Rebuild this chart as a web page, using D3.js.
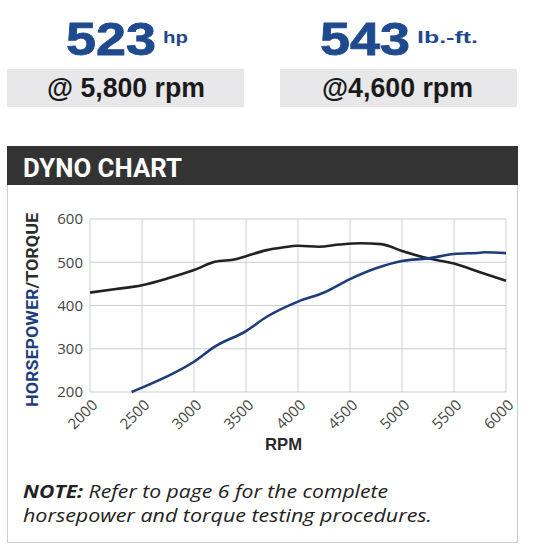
<!DOCTYPE html>
<html><head><meta charset="utf-8">
<script src="https://cdn.jsdelivr.net/npm/d3@7"></script>
<style>
html,body{margin:0;padding:0;background:#fff;}
svg{display:block;}
</style></head>
<body>
<svg id="c" width="533" height="547"></svg>
<script>
// ---- data ----
const xTicks = [2000,2500,3000,3500,4000,4500,5000,5500,6000];
const yTicks = [200,300,400,500,600];
const torqueRpm = [2000,2250,2500,2750,3000,3200,3400,3500,3700,3850,4000,4200,4400,4600,4800,5000,5250,5500,5750,6000];
const torque    = [430,438,447,463,482,501,507,514,528,534,538,536,541,544,542,526,509,497,477,457];
const hpRpm = [2400,2500,2800,3000,3200,3500,3700,4000,4250,4500,4750,5000,5250,5500,5750,5800,6000];
const hp    = [200,210,243,270,305,341,374,409,430,461,486,503,509,519,522,523,521];
const peakHp = "523", peakHpUnit = "hp", peakHpAt = "@ 5,800 rpm";
const peakTq = "543", peakTqUnit = "lb.-ft.", peakTqAt = "@4,600 rpm";

const svg = d3.select("#c");
const F = "'Liberation Sans', Arial, sans-serif";
const FO = "'Open Sans', sans-serif";
const FR = "Roboto, sans-serif";
const BLUE = "#1f4a8e", LINEBLUE = "#1c3c7c", DARK = "#222";

function fit(sel, w) { sel.attr("textLength", w).attr("lengthAdjust", "spacingAndGlyphs"); return sel; }

// ---- header stats ----
function stat(bigX, bigW, unitX, unitW, big, unit, at, atX, atW, boxX) {
  svg.append("rect").attr("x", boxX).attr("y", 69).attr("width", 237).attr("height", 38).attr("fill", "#e8e8ea");
  fit(svg.append("text").attr("x", bigX).attr("y", 55).attr("font-family", F).attr("font-weight", "bold")
    .attr("font-size", 46).attr("fill", BLUE).attr("stroke", BLUE).attr("stroke-width", 0.8).text(big), bigW);
  fit(svg.append("text").attr("x", unitX).attr("y", 43).attr("font-family", F).attr("font-weight", "bold")
    .attr("font-size", 17).attr("fill", BLUE).text(unit), unitW);
  fit(svg.append("text").attr("x", atX).attr("y", 97)
    .attr("font-family", F).attr("font-weight", "bold").attr("font-size", 27).attr("fill", "#1a1a1a").text(at), atW);
}
stat(66, 90, 163, 25, peakHp, peakHpUnit, peakHpAt, 47, 158, 7);
stat(320, 90, 417, 61, peakTq, peakTqUnit, peakTqAt, 322, 151, 280);

// ---- chart box ----
svg.append("rect").attr("x", 7.5).attr("y", 146.5).attr("width", 510).attr("height", 396).attr("fill", "#fff").attr("stroke", "#cfcfcf");
svg.append("rect").attr("x", 7).attr("y", 146).attr("width", 511).attr("height", 39).attr("fill", "#333");
fit(svg.append("text").attr("x", 23).attr("y", 177).attr("font-family", FR).attr("font-weight", "bold").attr("font-size", 26).attr("fill", "#fff").text("DYNO CHART"), 159);

// ---- plot ----
const x = d3.scaleLinear().domain([2000, 6000]).range([90, 506]);
const y = d3.scaleLinear().domain([200, 600]).range([392, 219]);
const GRID = "#c9ced6";

const g = svg.append("g");
g.selectAll(".vg").data(xTicks).join("line").attr("x1", d => x(d)).attr("x2", d => x(d)).attr("y1", y(200)).attr("y2", y(600)).attr("stroke", GRID).attr("stroke-width", 1);
g.selectAll(".hg").data(yTicks).join("line").attr("y1", d => y(d)).attr("y2", d => y(d)).attr("x1", x(2000)).attr("x2", x(6000)).attr("stroke", GRID).attr("stroke-width", 1);

// y axis labels
const ya = svg.append("g").attr("transform", `translate(${x(2000)},0)`).call(d3.axisLeft(y).tickValues(yTicks).tickSize(0).tickPadding(7));
ya.select(".domain").remove();
ya.selectAll("text").attr("font-family", FO).attr("font-size", 15).attr("fill", "#444");

// x axis labels
const xa = svg.append("g").attr("transform", `translate(0,${y(200)})`).call(d3.axisBottom(x).tickValues(xTicks).tickSize(0).tickFormat(d3.format("d")));
xa.select(".domain").remove();
xa.selectAll("text").attr("font-family", FO).attr("font-size", 15).attr("fill", "#444")
  .attr("text-anchor", "end").attr("y", 0).attr("dy", 0).attr("transform", "translate(8,14) rotate(-45)");

// lines
const line = d3.line().curve(d3.curveMonotoneX);
svg.append("path").attr("d", line(torqueRpm.map((r, i) => [x(r), y(torque[i])]))).attr("fill", "none").attr("stroke", DARK).attr("stroke-width", 2.6);
svg.append("path").attr("d", line(hpRpm.map((r, i) => [x(r), y(hp[i])]))).attr("fill", "none").attr("stroke", LINEBLUE).attr("stroke-width", 2.6);

// axis titles
const yt = svg.append("text").attr("transform", "translate(37.5,310) rotate(-90)").attr("text-anchor", "middle")
  .attr("font-family", FR).attr("font-weight", "bold").attr("font-size", 16.5);
yt.append("tspan").attr("fill", LINEBLUE).text("HORSEPOWER");
yt.append("tspan").attr("fill", "#2a2a2a").text("/TORQUE");
fit(yt, 194);

fit(svg.append("text").attr("x", 265).attr("y", 450).attr("font-family", F).attr("font-weight", "bold").attr("font-size", 16.5).attr("fill", "#2a2a2a").text("RPM"), 37);

// note
const n1 = svg.append("text").attr("x", 23).attr("y", 498).attr("font-family", FO).attr("font-style", "italic").attr("font-size", 18).attr("fill", "#222");
n1.append("tspan").attr("font-weight", "bold").text("NOTE:");
n1.append("tspan").text(" Refer to page 6 for the complete");
fit(n1, 365);
fit(svg.append("text").attr("x", 23).attr("y", 522).attr("font-family", FO).attr("font-style", "italic").attr("font-size", 18).attr("fill", "#222").text("horsepower and torque testing procedures."), 409);
</script>
</body></html>
